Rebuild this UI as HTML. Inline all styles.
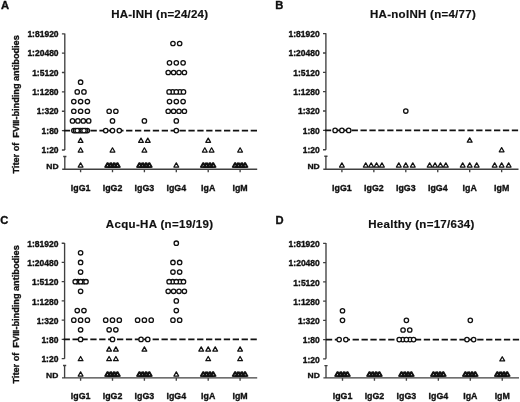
<!DOCTYPE html>
<html><head><meta charset="utf-8"><title>FVIII-binding antibodies</title>
<style>
html,body{margin:0;padding:0;background:#fff;}
body{width:520px;height:402px;overflow:hidden;}
svg{display:block;will-change:transform;}
text{font-family:"Liberation Sans", sans-serif;font-weight:bold;fill:#111;stroke:#111;stroke-width:0.35px;}
.tl{font-size:8.5px;text-anchor:end;}
.cl{font-size:9.5px;text-anchor:middle;}
.ti{font-size:11.5px;text-anchor:middle;stroke-width:0.18px;}
.le{font-size:11.2px;}
.yl{font-size:9.8px;text-anchor:middle;}
.ax{fill:none;stroke:#404040;stroke-width:1.35;}
.dash{fill:none;stroke:#111;stroke-width:1.8;stroke-dasharray:6.3 2.6;}
.cir circle{fill:#fff;stroke:#111;stroke-width:1.3;}
.tri path{fill:none;stroke:#111;stroke-width:1.25;stroke-linejoin:round;}
</style></head>
<body>
<svg width="520" height="402" viewBox="0 0 520 402">
<rect width="520" height="402" fill="#fff"/>
<path class="ax" d="M64.8 33.5V149.96M61.9 33.8H64.8M61.9 53.16H64.8M61.9 72.52H64.8M61.9 91.88H64.8M61.9 111.24H64.8M61.9 130.6H64.8M61.9 149.96H64.8M64.8 156.5V169.2M63.2 156.5H66.4M62.2 169.2H257.2M80.6 169.2V172.2M112.5 169.2V172.2M144.4 169.2V172.2M176.3 169.2V172.2M208.2 169.2V172.2M240.1 169.2V172.2"/>
<path class="dash" d="M63.8 130.6H257.8"/>
<text class="tl" x="58.6" y="0" transform="translate(0 37)">1:81920</text>
<text class="tl" x="58.6" y="0" transform="translate(0 56.36)">1:20480</text>
<text class="tl" x="58.6" y="0" transform="translate(0 75.72)">1:5120</text>
<text class="tl" x="58.6" y="0" transform="translate(0 95.08)">1:1280</text>
<text class="tl" x="58.6" y="0" transform="translate(0 114.44)">1:320</text>
<text class="tl" x="58.6" y="0" transform="translate(0 133.8)">1:80</text>
<text class="tl" x="58.6" y="0" transform="translate(0 153.16)">1:20</text>
<text class="tl" x="58.6" y="0" transform="translate(0 168.55) scale(1 0.95)">ND</text>
<text class="cl" transform="translate(80.6 190.8) scale(0.93 1)">IgG1</text>
<text class="cl" transform="translate(112.5 190.8) scale(0.93 1)">IgG2</text>
<text class="cl" transform="translate(144.4 190.8) scale(0.93 1)">IgG3</text>
<text class="cl" transform="translate(176.3 190.8) scale(0.93 1)">IgG4</text>
<text class="cl" transform="translate(208.2 190.8) scale(0.93 1)">IgA</text>
<text class="cl" transform="translate(240.1 190.8) scale(0.93 1)">IgM</text>
<g class="tri"><path d="M80.6 138.13L83 142.33L78.2 142.33Z"/><path d="M80.6 147.81L83 152.01L78.2 152.01Z"/><path d="M80.6 162.85L83 167.05L78.2 167.05Z"/><path d="M112.5 147.81L114.9 152.01L110.1 152.01Z"/><path d="M110.2 162.85L112.6 167.05L107.8 167.05Z"/><path d="M117 162.85L119.4 167.05L114.6 167.05Z"/><path d="M111.4 162.85L113.8 167.05L109 167.05Z"/><path d="M117.8 162.85L120.2 167.05L115.4 167.05Z"/><path d="M107.2 162.85L109.6 167.05L104.8 167.05Z"/><path d="M113.6 162.85L116 167.05L111.2 167.05Z"/><path d="M108 162.85L110.4 167.05L105.6 167.05Z"/><path d="M114.8 162.85L117.2 167.05L112.4 167.05Z"/><path d="M147.8 138.13L150.2 142.33L145.4 142.33Z"/><path d="M141 138.13L143.4 142.33L138.6 142.33Z"/><path d="M144.4 147.81L146.8 152.01L142 152.01Z"/><path d="M142.1 162.85L144.5 167.05L139.7 167.05Z"/><path d="M148.9 162.85L151.3 167.05L146.5 167.05Z"/><path d="M143.3 162.85L145.7 167.05L140.9 167.05Z"/><path d="M149.7 162.85L152.1 167.05L147.3 167.05Z"/><path d="M139.1 162.85L141.5 167.05L136.7 167.05Z"/><path d="M145.5 162.85L147.9 167.05L143.1 167.05Z"/><path d="M139.9 162.85L142.3 167.05L137.5 167.05Z"/><path d="M146.7 162.85L149.1 167.05L144.3 167.05Z"/><path d="M176.3 162.85L178.7 167.05L173.9 167.05Z"/><path d="M208.2 138.13L210.6 142.33L205.8 142.33Z"/><path d="M211.6 147.81L214 152.01L209.2 152.01Z"/><path d="M204.8 147.81L207.2 152.01L202.4 152.01Z"/><path d="M205.9 162.85L208.3 167.05L203.5 167.05Z"/><path d="M212.7 162.85L215.1 167.05L210.3 167.05Z"/><path d="M207.1 162.85L209.5 167.05L204.7 167.05Z"/><path d="M213.5 162.85L215.9 167.05L211.1 167.05Z"/><path d="M202.9 162.85L205.3 167.05L200.5 167.05Z"/><path d="M209.3 162.85L211.7 167.05L206.9 167.05Z"/><path d="M203.7 162.85L206.1 167.05L201.3 167.05Z"/><path d="M210.5 162.85L212.9 167.05L208.1 167.05Z"/><path d="M240.1 147.81L242.5 152.01L237.7 152.01Z"/><path d="M237.8 162.85L240.2 167.05L235.4 167.05Z"/><path d="M244.6 162.85L247 167.05L242.2 167.05Z"/><path d="M239 162.85L241.4 167.05L236.6 167.05Z"/><path d="M245.4 162.85L247.8 167.05L243 167.05Z"/><path d="M234.8 162.85L237.2 167.05L232.4 167.05Z"/><path d="M241.2 162.85L243.6 167.05L238.8 167.05Z"/><path d="M235.6 162.85L238 167.05L233.2 167.05Z"/><path d="M242.4 162.85L244.8 167.05L240 167.05Z"/></g>
<g class="cir"><circle cx="80.6" cy="82.2" r="2.2"/><circle cx="83.95" cy="91.88" r="2.2"/><circle cx="77.25" cy="91.88" r="2.2"/><circle cx="80.6" cy="101.56" r="2.2"/><circle cx="73.8" cy="101.56" r="2.2"/><circle cx="87.4" cy="101.56" r="2.2"/><circle cx="80.6" cy="111.24" r="2.2"/><circle cx="73.8" cy="111.24" r="2.2"/><circle cx="87.4" cy="111.24" r="2.2"/><circle cx="77.9" cy="120.92" r="2.2"/><circle cx="88.7" cy="120.92" r="2.2"/><circle cx="72.5" cy="120.92" r="2.2"/><circle cx="83.3" cy="120.92" r="2.2"/><circle cx="73.85" cy="130.6" r="2.2"/><circle cx="87.35" cy="130.6" r="2.2"/><circle cx="80.6" cy="130.6" r="2.2"/><circle cx="75.54" cy="130.6" r="2.2"/><circle cx="85.66" cy="130.6" r="2.2"/><circle cx="78.91" cy="130.6" r="2.2"/><circle cx="82.29" cy="130.6" r="2.2"/><circle cx="77.22" cy="130.6" r="2.2"/><circle cx="83.97" cy="130.6" r="2.2"/><circle cx="115.85" cy="111.24" r="2.2"/><circle cx="109.15" cy="111.24" r="2.2"/><circle cx="112.5" cy="120.92" r="2.2"/><circle cx="112.5" cy="130.6" r="2.2"/><circle cx="105.7" cy="130.6" r="2.2"/><circle cx="119.3" cy="130.6" r="2.2"/><circle cx="144.4" cy="120.92" r="2.2"/><circle cx="179.65" cy="43.48" r="2.2"/><circle cx="172.95" cy="43.48" r="2.2"/><circle cx="176.3" cy="62.84" r="2.2"/><circle cx="169.5" cy="62.84" r="2.2"/><circle cx="183.1" cy="62.84" r="2.2"/><circle cx="173.6" cy="72.52" r="2.2"/><circle cx="184.4" cy="72.52" r="2.2"/><circle cx="168.2" cy="72.52" r="2.2"/><circle cx="179" cy="72.52" r="2.2"/><circle cx="172.7" cy="91.88" r="2.2"/><circle cx="179.9" cy="91.88" r="2.2"/><circle cx="169.1" cy="91.88" r="2.2"/><circle cx="176.3" cy="91.88" r="2.2"/><circle cx="183.5" cy="91.88" r="2.2"/><circle cx="176.3" cy="101.56" r="2.2"/><circle cx="169.5" cy="101.56" r="2.2"/><circle cx="183.1" cy="101.56" r="2.2"/><circle cx="173.6" cy="111.24" r="2.2"/><circle cx="184.4" cy="111.24" r="2.2"/><circle cx="168.2" cy="111.24" r="2.2"/><circle cx="179" cy="111.24" r="2.2"/><circle cx="176.3" cy="120.92" r="2.2"/><circle cx="176.3" cy="130.6" r="2.2"/></g>
<text class="ti" x="159.6" y="18.4" textLength="96.9" lengthAdjust="spacing">HA-INH (n=24/24)</text>
<text class="le" x="0.9" y="8.6">A</text>
<path class="ax" d="M325.9 33.3V149.76M323 33.6H325.9M323 52.96H325.9M323 72.32H325.9M323 91.68H325.9M323 111.04H325.9M323 130.4H325.9M323 149.76H325.9M325.9 156.2V169.2M324.3 156.2H327.5M323.3 169.2H518.5M341.9 169.2V172.2M373.85 169.2V172.2M405.8 169.2V172.2M437.75 169.2V172.2M469.7 169.2V172.2M501.65 169.2V172.2"/>
<path class="dash" d="M324.9 130.4H519.1"/>
<text class="tl" x="319.7" y="0" transform="translate(0 36.8)">1:81920</text>
<text class="tl" x="319.7" y="0" transform="translate(0 56.16)">1:20480</text>
<text class="tl" x="319.7" y="0" transform="translate(0 75.52)">1:5120</text>
<text class="tl" x="319.7" y="0" transform="translate(0 94.88)">1:1280</text>
<text class="tl" x="319.7" y="0" transform="translate(0 114.24)">1:320</text>
<text class="tl" x="319.7" y="0" transform="translate(0 133.6)">1:80</text>
<text class="tl" x="319.7" y="0" transform="translate(0 152.96)">1:20</text>
<text class="tl" x="319.7" y="0" transform="translate(0 168.55) scale(1 0.95)">ND</text>
<text class="cl" transform="translate(341.9 190.8) scale(0.93 1)">IgG1</text>
<text class="cl" transform="translate(373.85 190.8) scale(0.93 1)">IgG2</text>
<text class="cl" transform="translate(405.8 190.8) scale(0.93 1)">IgG3</text>
<text class="cl" transform="translate(437.75 190.8) scale(0.93 1)">IgG4</text>
<text class="cl" transform="translate(469.7 190.8) scale(0.93 1)">IgA</text>
<text class="cl" transform="translate(501.65 190.8) scale(0.93 1)">IgM</text>
<g class="tri"><path d="M341.9 162.85L344.3 167.05L339.5 167.05Z"/><path d="M371.15 162.85L373.55 167.05L368.75 167.05Z"/><path d="M381.95 162.85L384.35 167.05L379.55 167.05Z"/><path d="M365.75 162.85L368.15 167.05L363.35 167.05Z"/><path d="M376.55 162.85L378.95 167.05L374.15 167.05Z"/><path d="M405.8 162.85L408.2 167.05L403.4 167.05Z"/><path d="M398.8 162.85L401.2 167.05L396.4 167.05Z"/><path d="M412.8 162.85L415.2 167.05L410.4 167.05Z"/><path d="M435.05 162.85L437.45 167.05L432.65 167.05Z"/><path d="M445.85 162.85L448.25 167.05L443.45 167.05Z"/><path d="M429.65 162.85L432.05 167.05L427.25 167.05Z"/><path d="M440.45 162.85L442.85 167.05L438.05 167.05Z"/><path d="M469.7 137.93L472.1 142.13L467.3 142.13Z"/><path d="M469.7 162.85L472.1 167.05L467.3 167.05Z"/><path d="M462.7 162.85L465.1 167.05L460.3 167.05Z"/><path d="M476.7 162.85L479.1 167.05L474.3 167.05Z"/><path d="M501.65 147.61L504.05 151.81L499.25 151.81Z"/><path d="M501.65 162.85L504.05 167.05L499.25 167.05Z"/><path d="M494.65 162.85L497.05 167.05L492.25 167.05Z"/><path d="M508.65 162.85L511.05 167.05L506.25 167.05Z"/></g>
<g class="cir"><circle cx="341.9" cy="130.4" r="2.2"/><circle cx="335.1" cy="130.4" r="2.2"/><circle cx="348.7" cy="130.4" r="2.2"/><circle cx="405.8" cy="111.04" r="2.2"/></g>
<text class="ti" x="422.9" y="18.4" textLength="105.8" lengthAdjust="spacing">HA-noINH (n=4/77)</text>
<text class="le" x="275.3" y="8.6">B</text>
<path class="ax" d="M64.6 242.9V358.64M61.7 243.2H64.6M61.7 262.44H64.6M61.7 281.68H64.6M61.7 300.92H64.6M61.7 320.16H64.6M61.7 339.4H64.6M61.7 358.64H64.6M64.6 365.5V377.8M63 365.5H66.2M62 377.8H257.2M80.6 377.8V380.8M112.5 377.8V380.8M144.4 377.8V380.8M176.3 377.8V380.8M208.2 377.8V380.8M240.1 377.8V380.8"/>
<path class="dash" d="M63.6 339.4H257.8"/>
<text class="tl" x="58.4" y="0" transform="translate(0 246.95)">1:81920</text>
<text class="tl" x="58.4" y="0" transform="translate(0 266.19)">1:20480</text>
<text class="tl" x="58.4" y="0" transform="translate(0 285.43)">1:5120</text>
<text class="tl" x="58.4" y="0" transform="translate(0 304.67)">1:1280</text>
<text class="tl" x="58.4" y="0" transform="translate(0 323.91)">1:320</text>
<text class="tl" x="58.4" y="0" transform="translate(0 343.15)">1:80</text>
<text class="tl" x="58.4" y="0" transform="translate(0 362.39)">1:20</text>
<text class="tl" x="58.4" y="0" transform="translate(0 377.55) scale(1 0.95)">ND</text>
<text class="cl" transform="translate(80.6 399.1) scale(0.93 1)">IgG1</text>
<text class="cl" transform="translate(112.5 399.1) scale(0.93 1)">IgG2</text>
<text class="cl" transform="translate(144.4 399.1) scale(0.93 1)">IgG3</text>
<text class="cl" transform="translate(176.3 399.1) scale(0.93 1)">IgG4</text>
<text class="cl" transform="translate(208.2 399.1) scale(0.93 1)">IgA</text>
<text class="cl" transform="translate(240.1 399.1) scale(0.93 1)">IgM</text>
<g class="tri"><path d="M80.6 356.49L83 360.69L78.2 360.69Z"/><path d="M80.6 371.85L83 376.05L78.2 376.05Z"/><path d="M115.9 346.87L118.3 351.07L113.5 351.07Z"/><path d="M109.1 346.87L111.5 351.07L106.7 351.07Z"/><path d="M115.9 356.49L118.3 360.69L113.5 360.69Z"/><path d="M109.1 356.49L111.5 360.69L106.7 360.69Z"/><path d="M110.2 371.85L112.6 376.05L107.8 376.05Z"/><path d="M117 371.85L119.4 376.05L114.6 376.05Z"/><path d="M111.4 371.85L113.8 376.05L109 376.05Z"/><path d="M117.8 371.85L120.2 376.05L115.4 376.05Z"/><path d="M107.2 371.85L109.6 376.05L104.8 376.05Z"/><path d="M113.6 371.85L116 376.05L111.2 376.05Z"/><path d="M108 371.85L110.4 376.05L105.6 376.05Z"/><path d="M114.8 371.85L117.2 376.05L112.4 376.05Z"/><path d="M144.4 346.87L146.8 351.07L142 351.07Z"/><path d="M142.1 371.85L144.5 376.05L139.7 376.05Z"/><path d="M148.9 371.85L151.3 376.05L146.5 376.05Z"/><path d="M143.3 371.85L145.7 376.05L140.9 376.05Z"/><path d="M149.7 371.85L152.1 376.05L147.3 376.05Z"/><path d="M139.1 371.85L141.5 376.05L136.7 376.05Z"/><path d="M145.5 371.85L147.9 376.05L143.1 376.05Z"/><path d="M139.9 371.85L142.3 376.05L137.5 376.05Z"/><path d="M146.7 371.85L149.1 376.05L144.3 376.05Z"/><path d="M176.3 371.85L178.7 376.05L173.9 376.05Z"/><path d="M208.2 346.87L210.6 351.07L205.8 351.07Z"/><path d="M201.2 346.87L203.6 351.07L198.8 351.07Z"/><path d="M215.2 346.87L217.6 351.07L212.8 351.07Z"/><path d="M208.2 356.49L210.6 360.69L205.8 360.69Z"/><path d="M205.9 371.85L208.3 376.05L203.5 376.05Z"/><path d="M212.7 371.85L215.1 376.05L210.3 376.05Z"/><path d="M207.1 371.85L209.5 376.05L204.7 376.05Z"/><path d="M213.5 371.85L215.9 376.05L211.1 376.05Z"/><path d="M202.9 371.85L205.3 376.05L200.5 376.05Z"/><path d="M209.3 371.85L211.7 376.05L206.9 376.05Z"/><path d="M203.7 371.85L206.1 376.05L201.3 376.05Z"/><path d="M210.5 371.85L212.9 376.05L208.1 376.05Z"/><path d="M240.1 346.87L242.5 351.07L237.7 351.07Z"/><path d="M240.1 356.49L242.5 360.69L237.7 360.69Z"/><path d="M237.8 371.85L240.2 376.05L235.4 376.05Z"/><path d="M244.6 371.85L247 376.05L242.2 376.05Z"/><path d="M239 371.85L241.4 376.05L236.6 376.05Z"/><path d="M245.4 371.85L247.8 376.05L243 376.05Z"/><path d="M234.8 371.85L237.2 376.05L232.4 376.05Z"/><path d="M241.2 371.85L243.6 376.05L238.8 376.05Z"/><path d="M235.6 371.85L238 376.05L233.2 376.05Z"/><path d="M242.4 371.85L244.8 376.05L240 376.05Z"/></g>
<g class="cir"><circle cx="80.6" cy="252.82" r="2.2"/><circle cx="80.6" cy="262.44" r="2.2"/><circle cx="80.6" cy="272.06" r="2.2"/><circle cx="77.9" cy="281.68" r="2.2"/><circle cx="83.3" cy="281.68" r="2.2"/><circle cx="75.2" cy="281.68" r="2.2"/><circle cx="80.6" cy="281.68" r="2.2"/><circle cx="86" cy="281.68" r="2.2"/><circle cx="80.6" cy="291.3" r="2.2"/><circle cx="83.95" cy="310.54" r="2.2"/><circle cx="77.25" cy="310.54" r="2.2"/><circle cx="80.6" cy="320.16" r="2.2"/><circle cx="73.8" cy="320.16" r="2.2"/><circle cx="87.4" cy="320.16" r="2.2"/><circle cx="80.6" cy="329.78" r="2.2"/><circle cx="80.6" cy="339.4" r="2.2"/><circle cx="112.5" cy="320.16" r="2.2"/><circle cx="105.7" cy="320.16" r="2.2"/><circle cx="119.3" cy="320.16" r="2.2"/><circle cx="115.85" cy="329.78" r="2.2"/><circle cx="109.15" cy="329.78" r="2.2"/><circle cx="112.5" cy="339.4" r="2.2"/><circle cx="144.4" cy="320.16" r="2.2"/><circle cx="137.6" cy="320.16" r="2.2"/><circle cx="151.2" cy="320.16" r="2.2"/><circle cx="147.75" cy="339.4" r="2.2"/><circle cx="141.05" cy="339.4" r="2.2"/><circle cx="176.3" cy="243.2" r="2.2"/><circle cx="179.65" cy="262.44" r="2.2"/><circle cx="172.95" cy="262.44" r="2.2"/><circle cx="179.65" cy="272.06" r="2.2"/><circle cx="172.95" cy="272.06" r="2.2"/><circle cx="172.7" cy="281.68" r="2.2"/><circle cx="179.9" cy="281.68" r="2.2"/><circle cx="169.1" cy="281.68" r="2.2"/><circle cx="176.3" cy="281.68" r="2.2"/><circle cx="183.5" cy="281.68" r="2.2"/><circle cx="173.6" cy="291.3" r="2.2"/><circle cx="184.4" cy="291.3" r="2.2"/><circle cx="168.2" cy="291.3" r="2.2"/><circle cx="179" cy="291.3" r="2.2"/><circle cx="176.3" cy="300.92" r="2.2"/><circle cx="176.3" cy="310.54" r="2.2"/><circle cx="179.65" cy="320.16" r="2.2"/><circle cx="172.95" cy="320.16" r="2.2"/></g>
<text class="ti" x="159.5" y="227.5" textLength="107.3" lengthAdjust="spacing">Acqu-HA (n=19/19)</text>
<text class="le" x="0.3" y="223.5">C</text>
<path class="ax" d="M326 243.1V358.84M323.1 243.4H326M323.1 262.64H326M323.1 281.88H326M323.1 301.12H326M323.1 320.36H326M323.1 339.6H326M323.1 358.84H326M326 365.6V377.8M324.4 365.6H327.6M323.4 377.8H519M342.5 377.8V380.8M374.45 377.8V380.8M406.4 377.8V380.8M438.35 377.8V380.8M470.3 377.8V380.8M502.25 377.8V380.8"/>
<path class="dash" d="M325.9 339.6H519.6"/>
<text class="tl" x="319.8" y="0" transform="translate(0 247.15)">1:81920</text>
<text class="tl" x="319.8" y="0" transform="translate(0 266.39)">1:20480</text>
<text class="tl" x="319.8" y="0" transform="translate(0 285.63)">1:5120</text>
<text class="tl" x="319.8" y="0" transform="translate(0 304.87)">1:1280</text>
<text class="tl" x="319.8" y="0" transform="translate(0 324.11)">1:320</text>
<text class="tl" x="319.8" y="0" transform="translate(0 343.35)">1:80</text>
<text class="tl" x="319.8" y="0" transform="translate(0 362.59)">1:20</text>
<text class="tl" x="319.8" y="0" transform="translate(0 377.55) scale(1 0.95)">ND</text>
<text class="cl" transform="translate(342.5 399.1) scale(0.93 1)">IgG1</text>
<text class="cl" transform="translate(374.45 399.1) scale(0.93 1)">IgG2</text>
<text class="cl" transform="translate(406.4 399.1) scale(0.93 1)">IgG3</text>
<text class="cl" transform="translate(438.35 399.1) scale(0.93 1)">IgG4</text>
<text class="cl" transform="translate(470.3 399.1) scale(0.93 1)">IgA</text>
<text class="cl" transform="translate(502.25 399.1) scale(0.93 1)">IgM</text>
<g class="tri"><path d="M340.2 371.85L342.6 376.05L337.8 376.05Z"/><path d="M347 371.85L349.4 376.05L344.6 376.05Z"/><path d="M341.4 371.85L343.8 376.05L339 376.05Z"/><path d="M347.8 371.85L350.2 376.05L345.4 376.05Z"/><path d="M337.2 371.85L339.6 376.05L334.8 376.05Z"/><path d="M343.6 371.85L346 376.05L341.2 376.05Z"/><path d="M338 371.85L340.4 376.05L335.6 376.05Z"/><path d="M344.8 371.85L347.2 376.05L342.4 376.05Z"/><path d="M372.15 371.85L374.55 376.05L369.75 376.05Z"/><path d="M378.95 371.85L381.35 376.05L376.55 376.05Z"/><path d="M373.35 371.85L375.75 376.05L370.95 376.05Z"/><path d="M379.75 371.85L382.15 376.05L377.35 376.05Z"/><path d="M369.15 371.85L371.55 376.05L366.75 376.05Z"/><path d="M375.55 371.85L377.95 376.05L373.15 376.05Z"/><path d="M369.95 371.85L372.35 376.05L367.55 376.05Z"/><path d="M376.75 371.85L379.15 376.05L374.35 376.05Z"/><path d="M404.1 371.85L406.5 376.05L401.7 376.05Z"/><path d="M410.9 371.85L413.3 376.05L408.5 376.05Z"/><path d="M405.3 371.85L407.7 376.05L402.9 376.05Z"/><path d="M411.7 371.85L414.1 376.05L409.3 376.05Z"/><path d="M401.1 371.85L403.5 376.05L398.7 376.05Z"/><path d="M407.5 371.85L409.9 376.05L405.1 376.05Z"/><path d="M401.9 371.85L404.3 376.05L399.5 376.05Z"/><path d="M408.7 371.85L411.1 376.05L406.3 376.05Z"/><path d="M436.05 371.85L438.45 376.05L433.65 376.05Z"/><path d="M442.85 371.85L445.25 376.05L440.45 376.05Z"/><path d="M437.25 371.85L439.65 376.05L434.85 376.05Z"/><path d="M443.65 371.85L446.05 376.05L441.25 376.05Z"/><path d="M433.05 371.85L435.45 376.05L430.65 376.05Z"/><path d="M439.45 371.85L441.85 376.05L437.05 376.05Z"/><path d="M433.85 371.85L436.25 376.05L431.45 376.05Z"/><path d="M440.65 371.85L443.05 376.05L438.25 376.05Z"/><path d="M468 371.85L470.4 376.05L465.6 376.05Z"/><path d="M474.8 371.85L477.2 376.05L472.4 376.05Z"/><path d="M469.2 371.85L471.6 376.05L466.8 376.05Z"/><path d="M475.6 371.85L478 376.05L473.2 376.05Z"/><path d="M465 371.85L467.4 376.05L462.6 376.05Z"/><path d="M471.4 371.85L473.8 376.05L469 376.05Z"/><path d="M465.8 371.85L468.2 376.05L463.4 376.05Z"/><path d="M472.6 371.85L475 376.05L470.2 376.05Z"/><path d="M502.25 356.69L504.65 360.89L499.85 360.89Z"/><path d="M499.95 371.85L502.35 376.05L497.55 376.05Z"/><path d="M506.75 371.85L509.15 376.05L504.35 376.05Z"/><path d="M501.15 371.85L503.55 376.05L498.75 376.05Z"/><path d="M507.55 371.85L509.95 376.05L505.15 376.05Z"/><path d="M496.95 371.85L499.35 376.05L494.55 376.05Z"/><path d="M503.35 371.85L505.75 376.05L500.95 376.05Z"/><path d="M497.75 371.85L500.15 376.05L495.35 376.05Z"/><path d="M504.55 371.85L506.95 376.05L502.15 376.05Z"/></g>
<g class="cir"><circle cx="342.5" cy="310.74" r="2.2"/><circle cx="342.5" cy="320.36" r="2.2"/><circle cx="345.85" cy="339.6" r="2.2"/><circle cx="339.15" cy="339.6" r="2.2"/><circle cx="406.4" cy="320.36" r="2.2"/><circle cx="409.75" cy="329.98" r="2.2"/><circle cx="403.05" cy="329.98" r="2.2"/><circle cx="402.8" cy="339.6" r="2.2"/><circle cx="410" cy="339.6" r="2.2"/><circle cx="399.2" cy="339.6" r="2.2"/><circle cx="406.4" cy="339.6" r="2.2"/><circle cx="413.6" cy="339.6" r="2.2"/><circle cx="470.3" cy="320.36" r="2.2"/><circle cx="473.65" cy="339.6" r="2.2"/><circle cx="466.95" cy="339.6" r="2.2"/></g>
<text class="ti" x="421.3" y="227.5" textLength="106.2" lengthAdjust="spacing">Healthy (n=17/634)</text>
<text class="le" x="275.4" y="223.5">D</text>
<text class="yl" transform="translate(19.3 104.4) rotate(-90)" x="0" y="0" textLength="138.4" lengthAdjust="spacingAndGlyphs">Titer of&#160; FV<tspan style="letter-spacing:-0.7px">II</tspan>I-binding antibodies</text>
<text class="yl" transform="translate(19.3 314.4) rotate(-90)" x="0" y="0" textLength="138.4" lengthAdjust="spacingAndGlyphs">Titer of&#160; FV<tspan style="letter-spacing:-0.7px">II</tspan>I-binding antibodies</text>
</svg>
</body></html>
